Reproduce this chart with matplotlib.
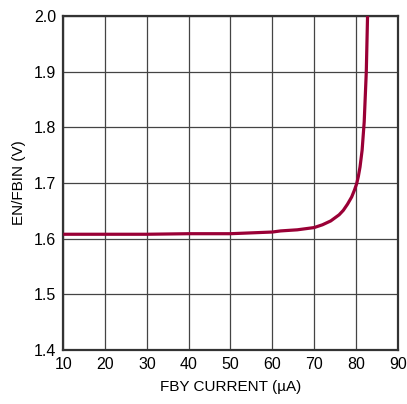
import matplotlib
matplotlib.use("Agg")
import matplotlib.pyplot as plt
from matplotlib import font_manager

fby_current = [10, 20, 30, 40, 50, 60, 62, 66, 70, 72, 74, 76, 77, 78, 79, 79.7, 80.2, 80.6, 81.0, 81.5, 82.0, 82.5, 82.8]
en_fbin = [1.608, 1.608, 1.608, 1.609, 1.609, 1.612, 1.614, 1.616, 1.620, 1.625, 1.632, 1.643, 1.651, 1.662, 1.675, 1.688, 1.699, 1.712, 1.729, 1.759, 1.810, 1.900, 2.000]

xticks = [10, 20, 30, 40, 50, 60, 70, 80, 90]
yticks = [1.4, 1.5, 1.6, 1.7, 1.8, 1.9, 2.0]

names = {f.name for f in font_manager.fontManager.ttflist}
fam = "Liberation Sans Narrow" if "Liberation Sans Narrow" in names else "Liberation Sans"
plt.rcParams['font.family'] = [fam, 'DejaVu Sans']

fig = plt.figure(figsize=(4.07, 4.04), dpi=100)
ax = fig.add_axes([0.1555, 0.1337, 0.8215, 0.8263])

ax.plot(fby_current, en_fbin, color='#9a0036', lw=2.3, solid_capstyle='butt', zorder=3)

ax.set_xlim(10, 90)
ax.set_ylim(1.4, 2.0)
ax.set_xticks(xticks)
ax.set_yticks(yticks)
ax.set_yticklabels([f"{v:.1f}" for v in yticks])
ax.grid(True, color='#444444', lw=0.9)
ax.tick_params(length=0, labelsize=11.5, pad=5)
for s in ax.spines.values():
    s.set_linewidth(1.6)
    s.set_color('#333333')

ax.set_xlabel('FBY CURRENT (µA)', fontsize=11, labelpad=6)
ax.set_ylabel('EN/FBIN (V)', fontsize=11, labelpad=6)

fig.savefig('out.png', dpi=100)
